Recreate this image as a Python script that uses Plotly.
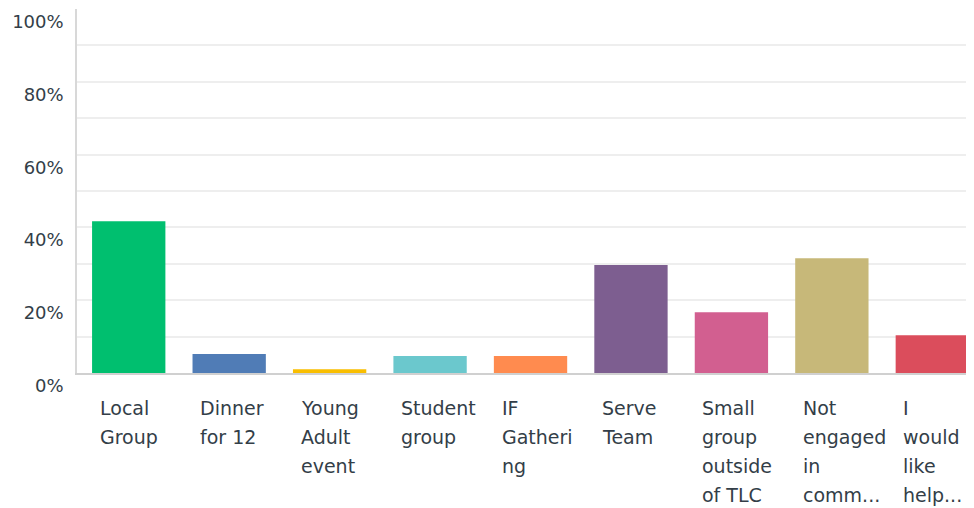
import plotly.graph_objects as go

categories = ["Local Group", "Dinner for 12", "Young Adult event", "Student group",
              "IF Gathering", "Serve Team", "Small group outside of TLC",
              "Not engaged in comm...", "I would like help..."]
tick_labels = ["Local<br>Group", "Dinner<br>for 12", "Young<br>Adult<br>event",
               "Student<br>group", "IF<br>Gatheri<br>ng", "Serve<br>Team",
               "Small<br>group<br>outside<br>of TLC", "Not<br>engaged<br>in<br>comm...",
               "I<br>would<br>like<br>help..."]
values = [41.7, 5.2, 1.0, 4.7, 4.7, 29.7, 16.7, 31.5, 10.4]
colors = ["#00BF6F", "#507CB6", "#F9BE00", "#6BC8CD", "#FF8B4F",
          "#7D5E90", "#D25F90", "#C7B879", "#DB4D5C"]
y_ticks = [0, 20, 40, 60, 80, 100]
y_tick_text = ["0%", "20%", "40%", "60%", "80%", "100%"]

FONT = "DejaVu Sans"
TXT = "#333E48"

fig = go.Figure(go.Bar(x=list(range(len(categories))), y=values,
                       marker=dict(color=colors, line=dict(width=0)),
                       hovertext=categories))

annotations = []
for i, lab in enumerate(tick_labels):
    for j, line in enumerate(lab.split("<br>")):
        annotations.append(dict(
            x=i, xref="x", y=0, yref="paper", text=line, showarrow=False,
            xanchor="left", yanchor="top", xshift=-31, yshift=-22 - 29 * j,
            font=dict(family=FONT, size=19, color=TXT)))

# the page body adds an 8px margin at top/left, so the figure is sized to fit
fig.update_layout(
    width=966, height=500,
    margin=dict(l=69, r=0, t=1, b=135, autoexpand=False),
    plot_bgcolor="white", paper_bgcolor="white",
    bargap=0.27, showlegend=False,
    annotations=annotations,
    xaxis=dict(range=[-0.515, 8.415], showticklabels=False, showgrid=False,
               zeroline=False, showline=True, linecolor="#D0D0D0", linewidth=2,
               ticks="", automargin=False),
    yaxis=dict(range=[0, 100], tickvals=y_ticks, ticktext=y_tick_text,
               showgrid=True, gridcolor="#EEEEEE", gridwidth=1.5,
               zeroline=False, showline=True, linecolor="#D8D8D8", linewidth=1.5,
               ticks="", ticklabelposition="outside bottom", ticklabelstandoff=8,
               automargin=False,
               tickfont=dict(family=FONT, size=18, color=TXT)),
)
fig.update_yaxes(minor=dict(dtick=10, showgrid=True, gridcolor="#EEEEEE", gridwidth=1.5))

fig.write_html("out.html")
